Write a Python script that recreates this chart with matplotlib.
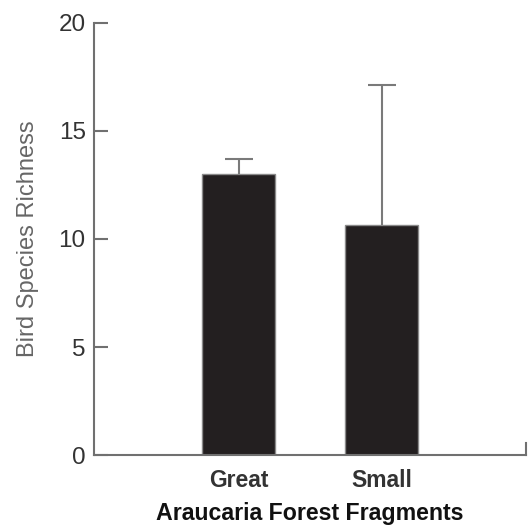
import matplotlib
matplotlib.use("Agg")
import matplotlib.pyplot as plt

# Bird species richness per Araucaria forest fragment size
fragments = ["Great", "Small"]
richness = [13.0, 10.65]
err_upper = [0.7, 6.5]

plt.rcParams['font.family'] = ['Liberation Sans', 'DejaVu Sans']

fig = plt.figure(figsize=(5.28, 5.27), dpi=100)
ax = fig.add_axes([0.178, 0.1366, 0.818, 0.8198])

xpos = list(range(len(fragments)))
tops = [r + e for r, e in zip(richness, err_upper)]
ax.bar(xpos, richness, width=0.51, color='#231f20', edgecolor='#8a8a8a', linewidth=1.0, zorder=2)
# upper-only error bars: stems plus a cap at the top
ax.vlines(xpos, richness, tops, colors='#7a7a7a', linewidth=1.5, zorder=3)
ax.plot(xpos, tops, linestyle='none', marker='_', markersize=20, markeredgewidth=1.5,
        color='#7a7a7a', zorder=3)

ax.set_xlim(-1.014, 2.007)
ax.set_ylim(0, 20)
ax.set_yticks([0, 5, 10, 15, 20])
ax.set_xticks(xpos)
ax.set_xticklabels(fragments, fontsize=16.5, fontweight='bold', color='#333333')

ax.tick_params(axis='y', direction='in', length=10, width=1.5, color='#707070',
               labelsize=17.5, labelcolor='#333333', pad=6)
ax.tick_params(axis='x', length=0, pad=10)

for side in ['left', 'bottom', 'right']:
    ax.spines[side].set_color('#707070')
    ax.spines[side].set_linewidth(1.5)
ax.spines['top'].set_visible(False)
ax.spines['right'].set_bounds(0, 0.55)

ax.set_ylabel("Bird Species Richness", fontsize=17, color='#666666', labelpad=14)
ax.set_xlabel("Araucaria Forest Fragments", fontsize=16.7, fontweight='bold', color='#111111', labelpad=7)

fig.savefig("out.png", dpi=100)
